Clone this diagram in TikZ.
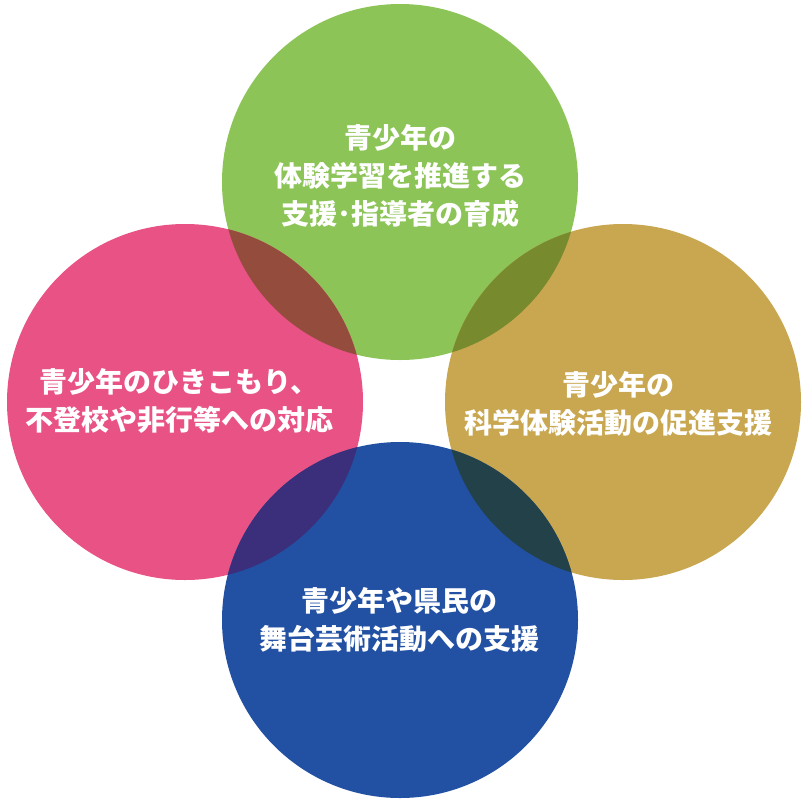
\documentclass[tikz,border=0pt]{standalone}
\usepackage{fontspec}
\newfontfamily\jp{Noto Sans CJK JP}
\definecolor{cgreen}{HTML}{8CC458}
\definecolor{cpink}{HTML}{E85284}
\definecolor{cgold}{HTML}{C8A750}
\definecolor{cblue}{HTML}{2251A3}
\definecolor{cgp}{HTML}{944C3C}
\definecolor{cgg}{HTML}{778A2E}
\definecolor{cpb}{HTML}{3B2E7A}
\definecolor{cbg}{HTML}{224149}
\begin{document}
\begin{tikzpicture}[x=1pt,y=-1pt,
  lbl/.style={text=white,align=center,font=\jp\bfseries\fontsize{28}{38}\selectfont}]
\useasboundingbox (0,0) rectangle (808,804);
\def\R{178}
\coordinate (T) at (400,182);
\coordinate (L) at (185,402);
\coordinate (Rt) at (623,402);
\coordinate (B) at (400,620);
\fill[cgreen] (T) circle (\R);
\fill[cpink] (L) circle (\R);
\fill[cgold] (Rt) circle (\R);
\fill[cblue] (B) circle (\R);
\begin{scope}\clip (T) circle (\R); \fill[cgp] (L) circle (\R);\end{scope}
\begin{scope}\clip (T) circle (\R); \fill[cgg] (Rt) circle (\R);\end{scope}
\begin{scope}\clip (B) circle (\R); \fill[cpb] (L) circle (\R);\end{scope}
\begin{scope}\clip (B) circle (\R); \fill[cbg] (Rt) circle (\R);\end{scope}
\node[lbl] (tt) at (400,176) {青少年の\\体験学習を推進する\\支援･指導者の育成};
\node[lbl] (lt) at (179,401) {青少年のひきこもり、\\不登校や非行等への対応};
\node[lbl] (rt) at (618,404) {青少年の\\科学体験活動の促進支援};
\node[lbl] (bt) at (399,620) {青少年や県民の\\舞台芸術活動への支援};
\end{tikzpicture}
\end{document}
